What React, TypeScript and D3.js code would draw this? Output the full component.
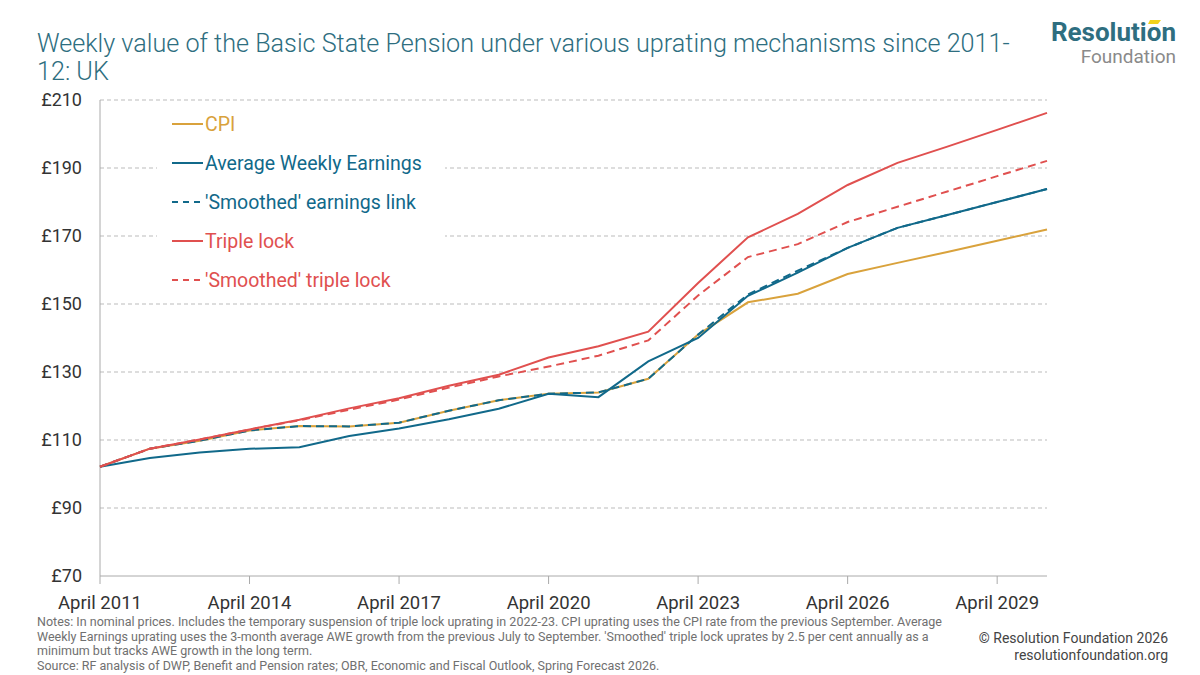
import React from 'react';
import {scaleLinear, line} from 'd3';

const years = [2011, 2012, 2013, 2014, 2015, 2016, 2017, 2018, 2019, 2020, 2021, 2022, 2023, 2024, 2025, 2026, 2027, 2028, 2029, 2030];
const cpi = [102.15, 107.45, 109.8, 112.8, 114.1, 114.0, 115.1, 118.6, 121.7, 123.6, 124.0, 128.0, 141.0, 150.5, 153.0, 158.8, 162.1, 165.3, 168.6, 171.9];
const awe = [102.15, 104.7, 106.3, 107.4, 107.9, 111.2, 113.4, 116.1, 119.2, 123.6, 122.6, 133.1, 140.0, 152.4, 159.2, 166.5, 172.4, 176.2, 180.0, 183.8];
const smoothedEarnings = [102.15, 107.45, 109.8, 112.8, 114.1, 114.0, 115.1, 118.6, 121.7, 123.6, 124.0, 128.0, 141.0, 152.8, 159.8, 166.5, 172.4, 176.2, 180.0, 183.8];
const tripleLock = [102.15, 107.45, 110.15, 113.1, 115.95, 119.3, 122.3, 125.95, 129.2, 134.25, 137.6, 141.85, 156.2, 169.6, 176.5, 185.0, 191.5, 196.3, 201.2, 206.2];
const smoothedTriple = [102.15, 107.45, 110.15, 113.1, 115.8, 118.9, 121.9, 125.4, 128.7, 131.6, 134.8, 139.3, 152.5, 163.8, 167.6, 174.1, 178.6, 183.1, 187.6, 192.1];

const yTicks = [70, 90, 110, 130, 150, 170, 190, 210];
const xTicks = [2011, 2014, 2017, 2020, 2023, 2026, 2029];

const GOLD = '#D9A23C';
const BLUE = '#11698A';
const RED = '#E0504F';
const FONT = 'Roboto, "Open Sans", sans-serif';

const series = [
  {name: 'CPI', values: cpi, color: GOLD, dash: ''},
  {name: 'Average Weekly Earnings', values: awe, color: BLUE, dash: ''},
  {name: "'Smoothed' earnings link", values: smoothedEarnings, color: BLUE, dash: '8,5'},
  {name: 'Triple lock', values: tripleLock, color: RED, dash: ''},
  {name: "'Smoothed' triple lock", values: smoothedTriple, color: RED, dash: '8,5'},
];

const notes = [
  'Notes: In nominal prices. Includes the temporary suspension of triple lock uprating in 2022-23. CPI uprating uses the CPI rate from the previous September. Average',
  "Weekly Earnings uprating uses the 3-month average AWE growth from the previous July to September. 'Smoothed' triple lock uprates by 2.5 per cent annually as a",
  'minimum but tracks AWE growth in the long term.',
  'Source: RF analysis of DWP, Benefit and Pension rates; OBR, Economic and Fiscal Outlook, Spring Forecast 2026.',
];

const App = (): JSX.Element => {
  const x = scaleLinear().domain([2011, 2030]).range([100, 1047]);
  const y = scaleLinear().domain([70, 210]).range([576, 100]);

  const mkLine = (vals: number[]) =>
    line<number>()
      .x((_, i) => x(years[i]))
      .y((v) => y(v))(vals) || '';

  return (
    <svg width={1200} height={675} viewBox="0 0 1200 675"
         style={{position: 'absolute', left: 0, top: 0, background: '#fff'}}
         fontFamily={FONT}>
      {/* title */}
      <text x={37} y={52} fontSize={25.2} fill="#2E6E80" fontWeight={300}>
        Weekly value of the Basic State Pension under various uprating mechanisms since 2011-
      </text>
      <text x={37} y={80} fontSize={25.2} fill="#2E6E80" fontWeight={300}>12: UK</text>

      {/* logo */}
      <text x={1176} y={41} textAnchor="end" fontSize={26} fontWeight={700} fill="#2E6E80">Resolution</text>
      <polygon points="1150,20 1161,20 1158,24 1148,24" fill="#F2D21B"/>
      <text x={1176} y={63} textAnchor="end" fontSize={19} fill="#8A8A8A">Foundation</text>

      {/* grid */}
      {yTicks.map((t) => (
        <g key={t}>
          {t !== 70 && (
            <line x1={100} x2={1047} y1={y(t)} y2={y(t)} stroke="#BBBBBB" strokeDasharray="4,3" strokeWidth={1}/>
          )}
          <text x={82} y={y(t) + 6} textAnchor="end" fontSize={18} fill="#333">£{t}</text>
        </g>
      ))}

      {/* axes */}
      <line x1={100} x2={100} y1={100} y2={576} stroke="#AAAAAA"/>
      <line x1={100} x2={1047} y1={576} y2={576} stroke="#AAAAAA"/>
      {xTicks.map((t) => (
        <g key={t}>
          <line x1={x(t)} x2={x(t)} y1={576} y2={584} stroke="#AAAAAA"/>
          <text x={x(t)} y={609} textAnchor="middle" fontSize={18.5} fill="#333">April {t}</text>
        </g>
      ))}

      {/* legend */}
      <rect x={157} y={106} width={288} height={196} fill="#fff"/>
      {series.map((s, i) => {
        const cy = 124 + i * 39;
        return (
          <g key={s.name}>
            <line x1={172} x2={203} y1={cy} y2={cy} stroke={s.color} strokeWidth={2}
                  strokeDasharray={s.dash ? '6,5' : undefined}/>
            <text x={205} y={cy + 7} fontSize={19.5} fill={s.color}>{s.name}</text>
          </g>
        );
      })}

      {/* lines */}
      {series.map((s) => (
        <path key={s.name} d={mkLine(s.values)} fill="none" stroke={s.color} strokeWidth={2}
              strokeDasharray={s.dash || undefined}/>
      ))}

      {/* notes */}
      {notes.map((n, i) => (
        <text key={i} x={37} y={626 + i * 14.5} fontSize={12.5} fill="#707070">{n}</text>
      ))}
      <text x={1168} y={643} textAnchor="end" fontSize={14} fill="#444">© Resolution Foundation 2026</text>
      <text x={1168} y={660} textAnchor="end" fontSize={14} fill="#444">resolutionfoundation.org</text>
    </svg>
  );
};

export default App;
